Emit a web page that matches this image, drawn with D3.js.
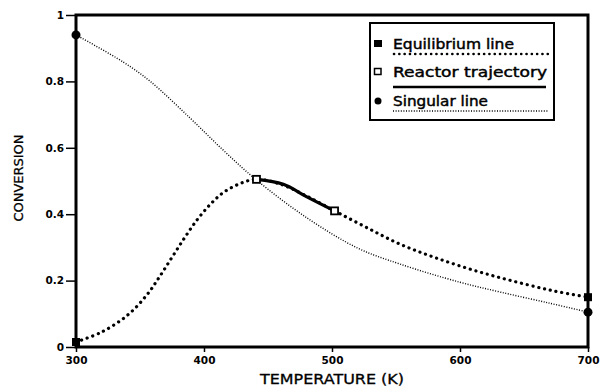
<!DOCTYPE html>
<html><head><meta charset="utf-8">
<script src="https://cdn.jsdelivr.net/npm/d3@7"></script>
<style>body{margin:0;background:#fff}svg{display:block}</style>
</head><body>
<svg id="c" width="603" height="387"></svg>
<script>
const eqT   = [300,320,340,355,365,375,385,395,405,415,428,441,460,480,502,527,553,580,610,640,672,700];
const eqX   = [0.015,0.045,0.095,0.155,0.21,0.27,0.33,0.385,0.43,0.465,0.492,0.505,0.49,0.455,0.41,0.36,0.31,0.27,0.232,0.2,0.17,0.15];
const trajT = [441,462,480,502];
const trajX = [0.505,0.49,0.453,0.41];
const sgT   = [300,337,358,389,415,441,480,520,553,600,632,670,700];
const sgX   = [0.94,0.858,0.80,0.69,0.593,0.503,0.39,0.298,0.25,0.195,0.165,0.132,0.105];
const xTicks = [300,400,500,600,700];
const yTicks = [0,0.2,0.4,0.6,0.8,1];
const yTickLabels = ["0","0.2","0.4","0.6","0.8","1"];
const legendLabels = ["Equilibrium line","Reactor trajectory","Singular line"];

const svg = d3.select("#c");
const L=76,R=588,T=15,B=347;
const x = d3.scaleLinear().domain([300,700]).range([L,R]);
const y = d3.scaleLinear().domain([0,1]).range([B,T]);
const font = "DejaVu Sans, sans-serif";

// axes
const xa = svg.append("g").attr("transform",`translate(0,${B})`)
  .call(d3.axisBottom(x).tickValues(xTicks).tickSize(5).tickPadding(5).tickFormat(d3.format("d")));
const ya = svg.append("g").attr("transform",`translate(${L},0)`)
  .call(d3.axisLeft(y).tickValues(yTicks).tickSize(10).tickPadding(2).tickFormat((d,i)=>yTickLabels[i]));
[xa,ya].forEach(a=>{
  a.select(".domain").remove();
  a.selectAll(".tick line").attr("stroke","#000").attr("stroke-width",1.5);
  a.selectAll(".tick text").attr("font-family",font).attr("font-weight","bold").attr("font-size",10.5).attr("fill","#000");
});
// frame
svg.append("rect").attr("x",L).attr("y",T).attr("width",R-L).attr("height",B-T)
  .attr("fill","none").attr("stroke","#000").attr("stroke-width",3);

const line = d3.line().x(d=>x(d[0])).y(d=>y(d[1])).curve(d3.curveCatmullRom.alpha(0.5));
const eq = eqT.map((t,i)=>[t,eqX[i]]);
const tr = trajT.map((t,i)=>[t,trajX[i]]);
const sg = sgT.map((t,i)=>[t,sgX[i]]);

svg.append("path").attr("d",line(sg)).attr("fill","none").attr("stroke","#000")
  .attr("stroke-width",1.4).attr("stroke-dasharray","1,1.6");
svg.append("path").attr("d",line(eq)).attr("fill","none").attr("stroke","#000")
  .attr("stroke-width",3.2).attr("stroke-linecap","round").attr("stroke-dasharray","0.1,5.8");
svg.append("path").attr("d",line(tr)).attr("fill","none").attr("stroke","#000")
  .attr("stroke-width",3.2);

// markers
const sq=8;
[eq[0],eq[eq.length-1]].forEach(d=>svg.append("rect").attr("x",x(d[0])-sq/2).attr("y",y(d[1])-sq/2)
  .attr("width",sq).attr("height",sq).attr("fill","#000"));
[tr[0],tr[tr.length-1]].forEach(d=>svg.append("rect").attr("x",x(d[0])-3.5).attr("y",y(d[1])-3.5)
  .attr("width",7).attr("height",7).attr("fill","#fff").attr("stroke","#000").attr("stroke-width",1.8));
[sg[0],sg[sg.length-1]].forEach(d=>svg.append("circle").attr("cx",x(d[0])).attr("cy",y(d[1]))
  .attr("r",4.5).attr("fill","#000"));

// axis titles
svg.append("text").attr("x",332).attr("y",384).attr("text-anchor","middle")
  .attr("font-family",font).attr("font-size",14).attr("stroke","#000").attr("stroke-width",0.3)
  .attr("textLength",144).attr("lengthAdjust","spacingAndGlyphs")
  .text("TEMPERATURE (K)");
svg.append("text").attr("transform","translate(23,178) rotate(-90)").attr("text-anchor","middle")
  .attr("font-family",font).attr("font-size",13).attr("stroke","#000").attr("stroke-width",0.3)
  .attr("textLength",87).attr("lengthAdjust","spacingAndGlyphs")
  .text("CONVERSION");

// legend
const lg = svg.append("g");
lg.append("rect").attr("x",370).attr("y",23).attr("width",184).attr("height",97)
  .attr("fill","#fff").attr("stroke","#000").attr("stroke-width",2);
const ly=[49,77,106], tl=[121,154,95];
legendLabels.forEach((s,i)=>{
  lg.append("text").attr("x",393).attr("y",ly[i]).attr("font-family",font).attr("font-size",14)
    .attr("stroke","#000").attr("stroke-width",0.45)
    .attr("textLength",tl[i]).attr("lengthAdjust","spacingAndGlyphs").text(s);
});
lg.append("rect").attr("x",374).attr("y",ly[0]-9).attr("width",8).attr("height",7).attr("fill","#000");
lg.append("rect").attr("x",374.5).attr("y",ly[1]-8.5).attr("width",6.5).attr("height",6).attr("fill","#fff").attr("stroke","#000").attr("stroke-width",1.5);
lg.append("circle").attr("cx",378).attr("cy",ly[2]-5).attr("r",3.5).attr("fill","#000");
lg.append("line").attr("x1",394).attr("x2",548).attr("y1",ly[0]+5).attr("y2",ly[0]+5)
  .attr("stroke","#000").attr("stroke-width",2.6).attr("stroke-linecap","round").attr("stroke-dasharray","0.1,5.2");
lg.append("line").attr("x1",393).attr("x2",546).attr("y1",ly[1]+10).attr("y2",ly[1]+10)
  .attr("stroke","#000").attr("stroke-width",2.5);
lg.append("line").attr("x1",393).attr("x2",549).attr("y1",ly[2]+5).attr("y2",ly[2]+5)
  .attr("stroke","#000").attr("stroke-width",1.4).attr("stroke-dasharray","1,1.6");
</script>
</body></html>
